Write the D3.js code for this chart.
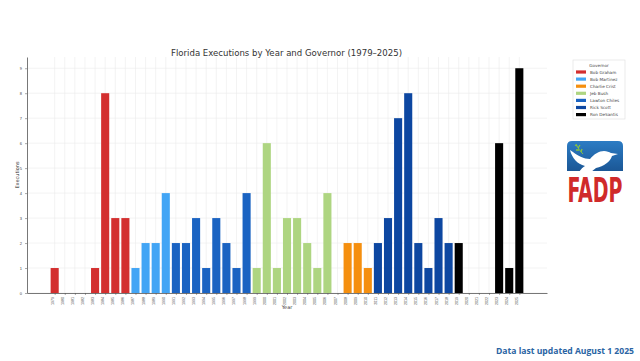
<!DOCTYPE html>
<html>
<head>
<meta charset="utf-8">
<script src="https://cdn.jsdelivr.net/npm/d3@7"></script>
<style>
  body { margin: 0; background: #fff; }
  svg { display: block; font-family: "DejaVu Sans", sans-serif; }
</style>
</head>
<body>
<div id="chart"></div>
<script>
// data
const years = d3.range(1979, 2026);
const executions = [
    1, 0, 0, 0, 1, 8, 3, 3,
    1, 2, 2, 4,
    2, 2, 3, 1, 3, 2, 1, 4,
    1, 6, 1, 3, 3, 2, 1, 4,
    0, 2, 2, 1,
    2, 3, 7, 8, 2, 1, 3, 2,
    2, 0, 0, 0, 6, 1, 9
];
const yearGovernor = [
    'Bob Graham', 'Bob Graham', 'Bob Graham', 'Bob Graham', 'Bob Graham', 'Bob Graham', 'Bob Graham', 'Bob Graham',
    'Bob Martinez', 'Bob Martinez', 'Bob Martinez', 'Bob Martinez',
    'Lawton Chiles', 'Lawton Chiles', 'Lawton Chiles', 'Lawton Chiles', 'Lawton Chiles', 'Lawton Chiles', 'Lawton Chiles', 'Lawton Chiles',
    'Jeb Bush', 'Jeb Bush', 'Jeb Bush', 'Jeb Bush', 'Jeb Bush', 'Jeb Bush', 'Jeb Bush', 'Jeb Bush',
    'Charlie Crist', 'Charlie Crist', 'Charlie Crist', 'Charlie Crist',
    'Rick Scott', 'Rick Scott', 'Rick Scott', 'Rick Scott', 'Rick Scott', 'Rick Scott', 'Rick Scott', 'Rick Scott',
    'Ron DeSantis', 'Ron DeSantis', 'Ron DeSantis', 'Ron DeSantis', 'Ron DeSantis', 'Ron DeSantis', 'Ron DeSantis'
];
const governors = ['Bob Graham', 'Bob Martinez', 'Charlie Crist', 'Jeb Bush', 'Lawton Chiles', 'Rick Scott', 'Ron DeSantis'];
const govColors = ['#d32f2f', '#42a5f5', '#f58f0f', '#aed581', '#1a63c2', '#0d47a1', '#000000'];
const yTicks = d3.range(0, 10);

const W = 640, H = 361;
const plot = { left: 27, right: 547, top: 57, bottom: 293 };

const svg = d3.select('#chart').append('svg')
    .attr('width', W)
    .attr('height', H);

const x = d3.scaleLinear()
    .domain([1979 - 0.4 - 2.34, 2025 + 0.4 + 2.34])
    .range([plot.left, plot.right]);
const y = d3.scaleLinear()
    .domain([0, 9.45])
    .range([plot.bottom, plot.top]);
const color = d3.scaleOrdinal().domain(governors).range(govColors);

// grid
svg.append('g')
    .selectAll('line.h')
    .data(yTicks)
    .enter().append('line')
    .attr('x1', plot.left).attr('x2', plot.right)
    .attr('y1', d => y(d)).attr('y2', d => y(d))
    .attr('stroke', '#ebebeb').attr('stroke-width', 0.6);
svg.append('g')
    .selectAll('line.v')
    .data(years)
    .enter().append('line')
    .attr('x1', d => x(d)).attr('x2', d => x(d))
    .attr('y1', plot.top).attr('y2', plot.bottom)
    .attr('stroke', '#ebebeb').attr('stroke-width', 0.6);

// bars
svg.append('g')
    .selectAll('rect')
    .data(years)
    .enter()
    .append('rect')
    .attr('x', d => x(d - 0.4))
    .attr('width', d => x(d + 0.4) - x(d - 0.4))
    .attr('y', (d, i) => y(executions[i]))
    .attr('height', (d, i) => y(0) - y(executions[i]))
    .attr('fill', (d, i) => color(yearGovernor[i]));

// axes
const xAxis = svg.append('g')
    .attr('transform', `translate(0,${plot.bottom})`)
    .call(d3.axisBottom(x).tickValues(years).tickFormat(d3.format('d')).tickSize(2).tickSizeOuter(0));
xAxis.selectAll('text')
    .attr('transform', 'rotate(-90)')
    .attr('text-anchor', 'end')
    .attr('x', -4).attr('y', -1.5)
    .attr('dy', null)
    .style('font-size', '3.6px')
    .attr('fill', '#444');

const yAxis = svg.append('g')
    .attr('transform', `translate(${plot.left},0)`)
    .call(d3.axisLeft(y).tickValues(yTicks).tickSize(2).tickSizeOuter(0));
yAxis.selectAll('text')
    .style('font-size', '4px')
    .attr('fill', '#444');

[xAxis, yAxis].forEach(a => {
    a.select('.domain').attr('stroke', '#555').attr('stroke-width', 0.8);
    a.selectAll('.tick line').attr('stroke', '#555').attr('stroke-width', 0.5);
});

// titles
svg.append('text')
    .attr('x', 286.5).attr('y', 55.5)
    .attr('text-anchor', 'middle')
    .attr('textLength', 231)
    .attr('lengthAdjust', 'spacingAndGlyphs')
    .style('font-size', '9.2px')
    .attr('fill', '#333')
    .text('Florida Executions by Year and Governor (1979–2025)');

svg.append('text')
    .attr('x', 287).attr('y', 309)
    .attr('text-anchor', 'middle')
    .style('font-size', '5px')
    .attr('fill', '#333')
    .text('Year');

svg.append('text')
    .attr('transform', 'translate(19,175) rotate(-90)')
    .attr('text-anchor', 'middle')
    .style('font-size', '5px')
    .attr('fill', '#333')
    .text('Executions');

// legend
const legend = svg.append('g').attr('transform', 'translate(573,60)');
legend.append('rect')
    .attr('width', 52).attr('height', 59)
    .attr('fill', '#fff')
    .attr('stroke', '#ddd').attr('stroke-width', 0.6);
legend.append('text')
    .attr('x', 26).attr('y', 6.5)
    .attr('text-anchor', 'middle')
    .style('font-size', '4.2px')
    .attr('fill', '#444')
    .text('Governor');
const items = legend.selectAll('g.item')
    .data(governors)
    .enter().append('g')
    .attr('transform', (d, i) => `translate(3,${12 + i * 7.1})`);
items.append('rect')
    .attr('x', 0).attr('y', -1.6)
    .attr('width', 10).attr('height', 3.2)
    .attr('fill', d => color(d));
items.append('text')
    .attr('x', 14).attr('y', 1.5)
    .style('font-size', '4.2px')
    .attr('fill', '#444')
    .text(d => d);

// FADP logo
const logo = svg.append('g').attr('transform', 'translate(567,141)');
const grad = svg.append('defs').append('linearGradient')
    .attr('id', 'logoGrad').attr('x1', 0).attr('y1', 0).attr('x2', 0).attr('y2', 1);
grad.append('stop').attr('offset', '0%').attr('stop-color', '#2c7cc4');
grad.append('stop').attr('offset', '100%').attr('stop-color', '#1b5796');
logo.append('path')
    .attr('d', 'M0,30 L0,5 Q0,0 5,0 L51,0 Q56,0 56,5 L56,30 Z')
    .attr('fill', 'url(#logoGrad)');
// dove
logo.append('path')
    .attr('d', 'M3,9 C11,15 17,18 23,18 C27,13 32,10 37,10 C40,10 42,11 44,12 L51,13 L45,15 C43,21 37,25 29,27 L24,31 L12,31 C14,28 16,26 18,25 C10,23 5,17 3,9 Z')
    .attr('fill', '#fff');
// olive branch
logo.append('path')
    .attr('d', 'M16,13 C13,10 11,7 9,3')
    .attr('stroke', '#86c440').attr('stroke-width', 1)
    .attr('fill', 'none');
logo.append('path')
    .attr('d', 'M10,5 l-2,-1 M11,7 l2,-3 M12,9 l-3,0 M14,11 l1,-3')
    .attr('stroke', '#86c440').attr('stroke-width', 1.3)
    .attr('fill', 'none');
logo.append('g')
    .attr('transform', 'translate(28,61) scale(1,1.36)')
    .append('text')
    .attr('x', 0).attr('y', 0)
    .attr('text-anchor', 'middle')
    .attr('textLength', 55)
    .attr('lengthAdjust', 'spacingAndGlyphs')
    .style('font-size', '25px')
    .style('font-weight', 'bold')
    .style('font-family', '"DejaVu Sans Condensed", "Liberation Sans Narrow", sans-serif')
    .attr('fill', '#d02a2a')
    .text('FADP');

// footer
svg.append('text')
    .attr('x', 634).attr('y', 354)
    .attr('text-anchor', 'end')
    .style('font-size', '8.6px')
    .style('font-weight', 'bold')
    .style('font-family', '"Open Sans", sans-serif')
    .attr('fill', '#2a64a3')
    .text('Data last updated August 1 2025');
</script>
</body>
</html>
